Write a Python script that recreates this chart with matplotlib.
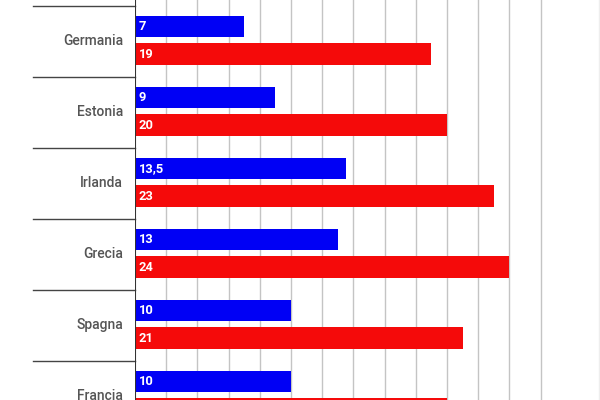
import matplotlib
matplotlib.use("Agg")
import matplotlib.pyplot as plt
from matplotlib.lines import Line2D

categories = ["Germania", "Estonia", "Irlanda", "Grecia", "Spagna", "Francia"]
blue_values = [7, 9, 13.5, 13, 10, 10]
red_values = [19, 20, 23, 24, 21, 20]
blue_labels = ["7", "9", "13,5", "13", "10", "10"]
red_labels = ["19", "20", "23", "24", "21", "20"]
grid_ticks = list(range(2, 27, 2))

W, H = 600, 400
fig = plt.figure(figsize=(6, 4), dpi=100)
left_px = 135
ax = fig.add_axes([left_px / W, 0, 1 - left_px / W, 1])

px_per_unit = 15.6
ax.set_xlim(0, (W - left_px) / px_per_unit)
band_px = 71.0
top_sep = 5.7
y_top = -0.5 - top_sep / band_px
y_bot = -0.5 + (H - top_sep) / band_px
ax.set_ylim(y_bot, y_top)

pos = list(range(len(categories)))
b_off = -0.206
r_off = 0.182
bh = 0.305
ax.barh([p + b_off for p in pos], blue_values, height=bh, color="#0000f5", zorder=3)
ax.barh([p + r_off for p in pos], red_values, height=bh, color="#f50a0a", zorder=3)

for x in grid_ticks:
    ax.axvline(x, color="#c4c4c4", lw=1.0, zorder=1)

fnt = "Roboto"
for p, bl, rl in zip(pos, blue_labels, red_labels):
    ax.text(0.25, p + b_off, bl, color="white", fontsize=9.3, fontweight="bold",
            family=fnt, va="center", ha="left", zorder=4)
    ax.text(0.25, p + r_off, rl, color="white", fontsize=9.3, fontweight="bold",
            family=fnt, va="center", ha="left", zorder=4)
    ax.text(-12 / px_per_unit, p, categories[p], color="#555555", fontsize=10,
            fontweight="medium", family=fnt, va="center", ha="right", clip_on=False)

# group separators to the left of the axis
sep_left = -(left_px - 33) / px_per_unit
for k in range(-1, len(categories)):
    y = k + 0.5
    ax.plot([sep_left, 0], [y, y], color="#444444", lw=1.0, clip_on=False, zorder=5)

ax.axvline(0, color="#333333", lw=1.5, zorder=6)
for s in ax.spines.values():
    s.set_visible(False)
ax.set_xticks([])
ax.set_yticks([])
fig.add_artist(Line2D([599 / W, 599 / W], [0, 1], color="#eeeeee", lw=1))

fig.savefig("out.png", dpi=100)
